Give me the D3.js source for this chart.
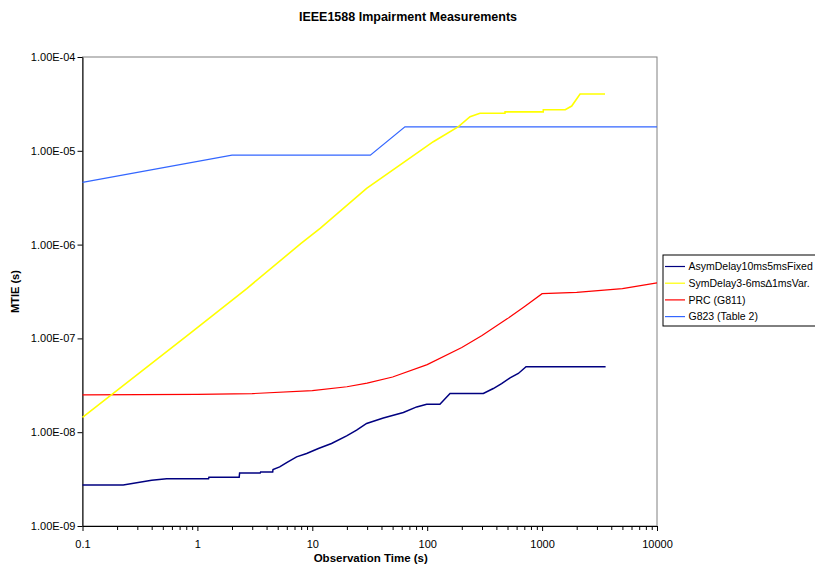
<!DOCTYPE html>
<html>
<head>
<meta charset="utf-8">
<script src="https://d3js.org/d3.v7.min.js"></script>
<style>
  html, body { margin: 0; padding: 0; background: #fff; }
  svg { display: block; }
  text { font-family: "Liberation Sans", Arial, sans-serif; }
</style>
</head>
<body>
<svg id="chart" width="815" height="567"></svg>
<script>
// ---- Data ----
const xTickValues = [0.1, 1, 10, 100, 1000, 10000];
const xTickLabels = ["0.1", "1", "10", "100", "1000", "10000"];
const yTickValues = [1e-9, 1e-8, 1e-7, 1e-6, 1e-5, 1e-4];
const yTickLabels = ["1.00E-09", "1.00E-08", "1.00E-07", "1.00E-06", "1.00E-05", "1.00E-04"];

const seriesNames = ["AsymDelay10ms5msFixed", "SymDelay3-6ms\u22061msVar.", "PRC (G811)", "G823 (Table 2)"];
const seriesColors = ["#000080", "#FFFF00", "#FF0000", "#3366FF"];

const asymTime = [0.1, 0.226, 0.4, 0.54, 1.25, 1.26, 2.31, 2.33, 3.52, 3.55, 4.52, 4.55, 5.2, 5.98, 7.3, 8.93, 11.3, 14.7, 19.9, 24.3, 29.7, 41.5, 62, 81, 99, 129, 158, 308, 376, 444, 526, 621, 725, 3570];
const asymMtie = [2.74e-9, 2.74e-9, 3.07e-9, 3.18e-9, 3.18e-9, 3.31e-9, 3.31e-9, 3.68e-9, 3.68e-9, 3.77e-9, 3.77e-9, 4.0e-9, 4.27e-9, 4.75e-9, 5.46e-9, 5.93e-9, 6.7e-9, 7.58e-9, 9.14e-9, 1.05e-8, 1.24e-8, 1.42e-8, 1.62e-8, 1.86e-8, 1.99e-8, 1.99e-8, 2.59e-8, 2.59e-8, 2.92e-8, 3.3e-8, 3.79e-8, 4.23e-8, 4.98e-8, 4.98e-8];

const symTime = [0.1, 0.863, 2.69, 7.98, 11.7, 29.7, 113, 187, 236, 288, 475, 476, 1023, 1025, 1590, 1810, 2140, 3530];
const symMtie = [1.44e-8, 1.13e-7, 3.4e-7, 1.03e-6, 1.49e-6, 3.98e-6, 1.25e-5, 1.81e-5, 2.31e-5, 2.51e-5, 2.51e-5, 2.6e-5, 2.6e-5, 2.74e-5, 2.74e-5, 3.0e-5, 4.03e-5, 4.03e-5];

const prcTime = [0.1, 1, 3, 10, 20, 30, 50, 100, 200, 300, 500, 700, 1000, 2000, 5000, 10000];
const prcMtie = [2.50e-8, 2.53e-8, 2.58e-8, 2.78e-8, 3.05e-8, 3.33e-8, 3.88e-8, 5.25e-8, 8.0e-8, 1.075e-7, 1.625e-7, 2.175e-7, 3.0e-7, 3.1e-7, 3.4e-7, 3.9e-7];

const g823Time = [0.1, 2, 32, 64, 10000];
const g823Mtie = [4.6e-6, 9e-6, 9e-6, 1.8e-5, 1.8e-5];

// ---- Layout ----
const svg = d3.select("#chart");
const plot = { left: 82.5, right: 657, top: 57, bottom: 526 };

const x = d3.scaleLog().domain([0.1, 10000]).range([plot.left, plot.right]);
const y = d3.scaleLog().domain([1e-9, 1e-4]).range([plot.bottom, plot.top]);

// Title
svg.append("text")
  .attr("x", 408).attr("y", 21)
  .attr("text-anchor", "middle")
  .style("font-size", "12.5px").style("font-weight", "bold")
  .text("IEEE1588 Impairment Measurements");

// Plot border (gray top/right)
svg.append("rect")
  .attr("x", plot.left).attr("y", plot.top)
  .attr("width", plot.right - plot.left).attr("height", plot.bottom - plot.top)
  .attr("fill", "none").attr("stroke", "#808080").attr("stroke-width", 1);

// X axis
const minorTicks = [];
for (let d = -1; d < 4; d++) for (let k = 2; k <= 9; k++) minorTicks.push(k * Math.pow(10, d));

const xAxisG = svg.append("g").attr("transform", `translate(0,${plot.bottom})`);
xAxisG.call(d3.axisBottom(x).tickValues(minorTicks).tickSize(4).tickFormat(""))
  .call(g => g.select(".domain").remove());
xAxisG.append("g").call(d3.axisBottom(x).tickValues(xTickValues).tickSize(5)
    .tickFormat((d, i) => xTickLabels[i]).tickSizeOuter(0))
  .call(g => g.selectAll("text").style("font-size", "11px").attr("fill", "#000").attr("dy", "1.3em"));
xAxisG.selectAll("line").attr("stroke", "#000");
xAxisG.selectAll(".domain").attr("stroke", "#000");

// Y axis
const yAxisG = svg.append("g").attr("transform", `translate(${plot.left},0)`);
yAxisG.call(d3.axisLeft(y).tickValues(yTickValues).tickSize(5).tickSizeOuter(0)
    .tickFormat((d, i) => yTickLabels[i]))
  .call(g => g.selectAll("text").style("font-size", "11px").attr("fill", "#000").attr("x", -7))
  .call(g => g.selectAll("line").attr("stroke", "#000"))
  .call(g => g.select(".domain").attr("stroke", "#000"));

// Axis titles
svg.append("text")
  .attr("x", (plot.left + plot.right) / 2 + 1).attr("y", 562)
  .attr("text-anchor", "middle")
  .style("font-size", "11.5px").style("font-weight", "bold")
  .text("Observation Time (s)");
svg.append("text")
  .attr("transform", `translate(19,${(plot.top + plot.bottom) / 2}) rotate(-90)`)
  .attr("text-anchor", "middle")
  .style("font-size", "11px").style("font-weight", "bold")
  .text("MTIE (s)");

// Lines
const line = d3.line().x(d => x(d[0])).y(d => y(d[1]));
const series = [
  { t: asymTime, v: asymMtie, w: 1.5 },
  { t: symTime, v: symMtie, w: 1.6 },
  { t: prcTime, v: prcMtie, w: 1.2 },
  { t: g823Time, v: g823Mtie, w: 1.2 }
];
const drawOrder = [3, 2, 1, 0];
const lineG = svg.append("g");
drawOrder.forEach(i => {
  const s = series[i];
  lineG.append("path")
    .datum(s.t.map((t, j) => [t, s.v[j]]))
    .attr("fill", "none")
    .attr("stroke", seriesColors[i])
    .attr("stroke-width", s.w)
    .attr("d", line);
});

// Legend
const lg = svg.append("g").attr("transform", "translate(663,255)");
lg.append("rect").attr("x", 0).attr("y", 0).attr("width", 170).attr("height", 71)
  .attr("fill", "#fff").attr("stroke", "#000").attr("stroke-width", 1);
seriesNames.forEach((name, i) => {
  const yy = 11.5 + i * 16.7;
  lg.append("line").attr("x1", 2).attr("x2", 22).attr("y1", yy).attr("y2", yy)
    .attr("stroke", seriesColors[i]).attr("stroke-width", 1.2);
  lg.append("text").attr("x", 25.5).attr("y", yy).attr("dy", "0.35em")
    .style("font-size", "10.5px").text(name);
});
</script>
</body>
</html>
